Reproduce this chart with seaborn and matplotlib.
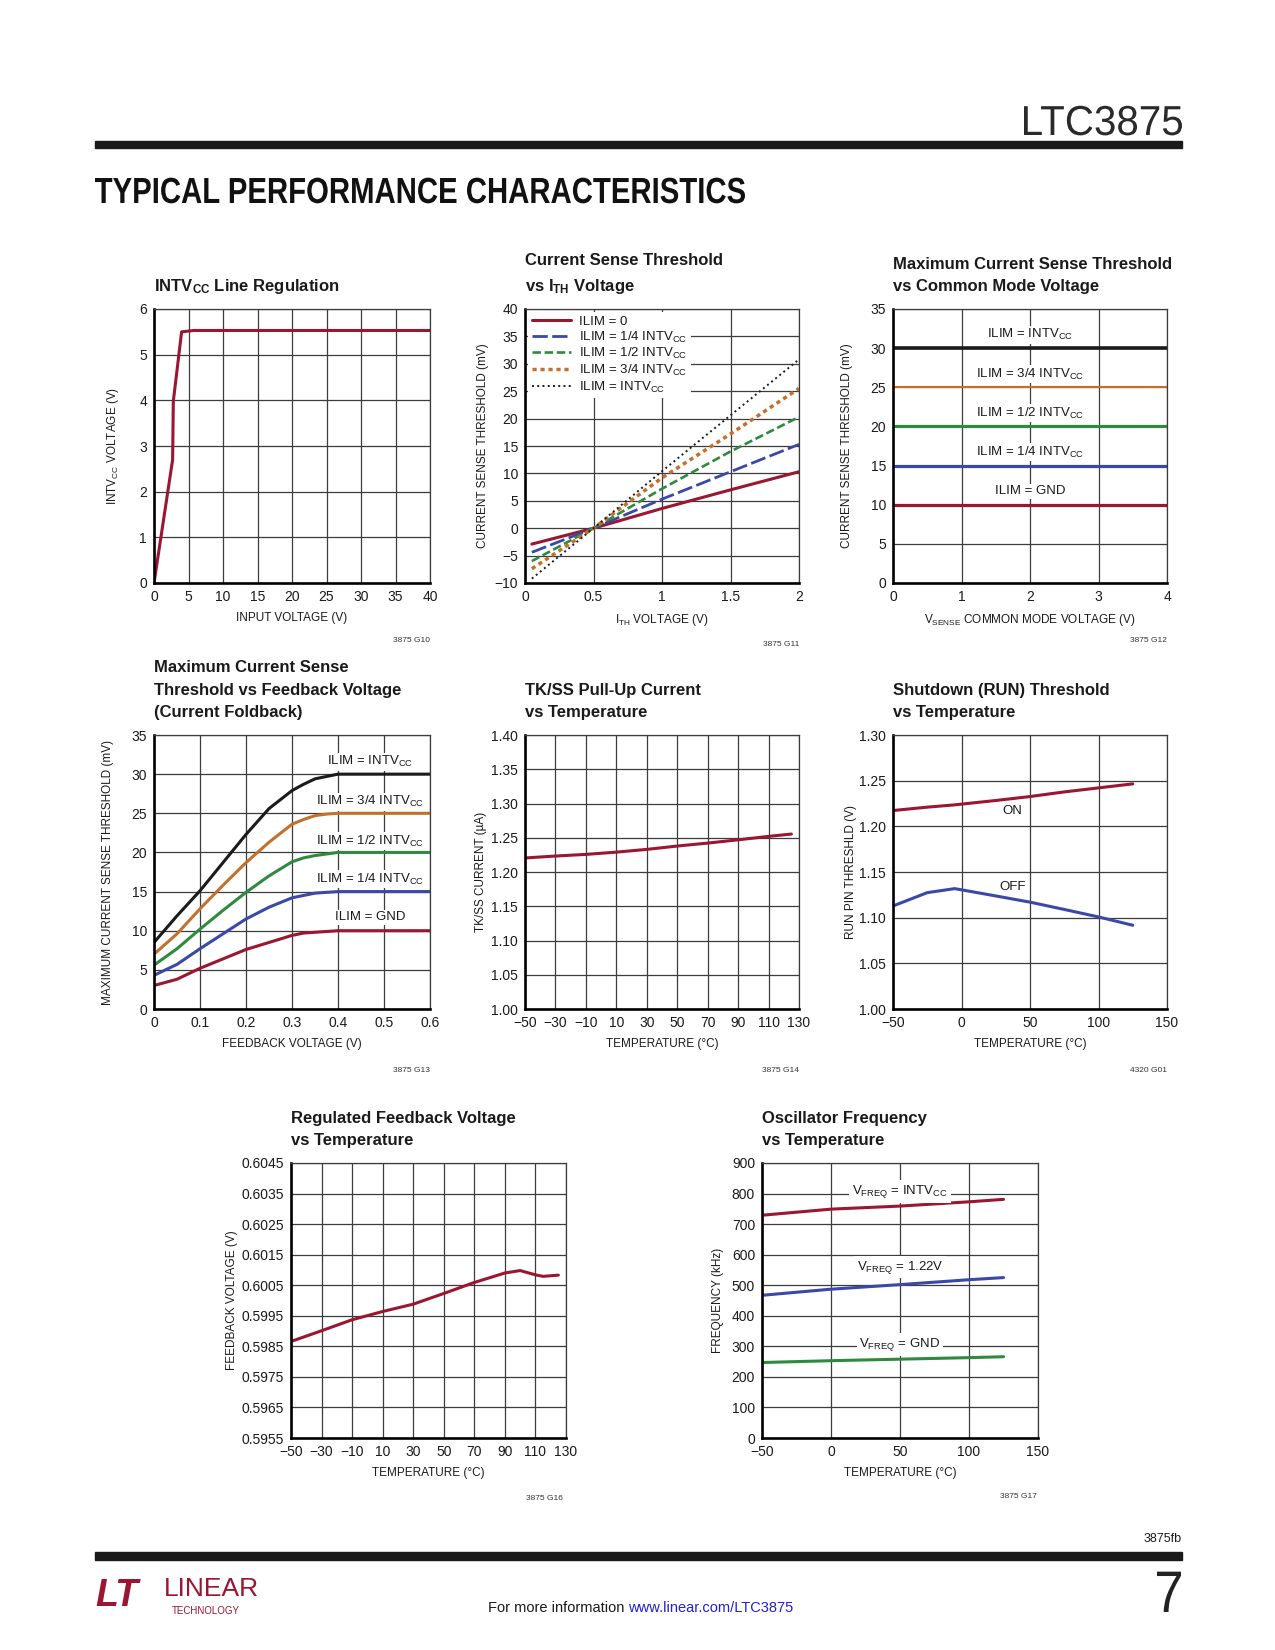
import numpy as np
import pandas as pd
import matplotlib
matplotlib.use("Agg")
import matplotlib.pyplot as plt
from matplotlib.patches import Rectangle, PathPatch
from matplotlib.textpath import TextPath
from matplotlib.font_manager import FontProperties
from matplotlib.transforms import Affine2D
from matplotlib.ticker import FixedLocator, FuncFormatter
import seaborn as sns

W, H = 1275, 1650

CRIMSON = "#9a1631"
BLUE = "#3a48a8"
GREEN = "#2f8a40"
ORANGE = "#c4702c"
BLACK = "#1b1b1b"
GRID = "#3c3c3c"

# --- INTVcc line regulation ---
linereg_vin = [0, 2.7, 2.8, 4.0, 5.8, 10, 20, 30, 40]
linereg_intvcc = [0, 2.70, 3.98, 5.50, 5.53, 5.53, 5.53, 5.53, 5.53]
linereg_xticks = [0, 5, 10, 15, 20, 25, 30, 35, 40]
linereg_yticks = [0, 1, 2, 3, 4, 5, 6]

# --- current sense threshold vs ITH ---
ith_v = [0.05, 0.5, 1.0, 1.5, 2.0]
ith_ilim_0 = [-2.9, 0, 3.6, 7.0, 10.3]
ith_ilim_quarter = [-4.4, 0, 5.3, 10.3, 15.3]
ith_ilim_half = [-6.0, 0, 7.2, 14.0, 20.3]
ith_ilim_3quarter = [-7.4, 0, 9.2, 17.2, 25.5]
ith_ilim_full = [-9.2, 0, 10.4, 20.6, 30.8]
ith_labels = ["ILIM = 0", "ILIM = 1/4 INTV$_{CC}$", "ILIM = 1/2 INTV$_{CC}$",
              "ILIM = 3/4 INTV$_{CC}$", "ILIM = INTV$_{CC}$"]
ith_xticks = [0, 0.5, 1, 1.5, 2]
ith_yticks = [-10, -5, 0, 5, 10, 15, 20, 25, 30, 35, 40]

# --- max current sense threshold vs common mode ---
cm_v = [0, 4]
cm_levels = [30, 25, 20, 15, 10]
cm_labels = ["ILIM = INTV$_{CC}$", "ILIM = 3/4 INTV$_{CC}$", "ILIM = 1/2 INTV$_{CC}$",
             "ILIM = 1/4 INTV$_{CC}$", "ILIM = GND"]
cm_xticks = [0, 1, 2, 3, 4]
cm_yticks = [0, 5, 10, 15, 20, 25, 30, 35]

# --- foldback ---
fb_v = [0, 0.05, 0.1, 0.15, 0.2, 0.25, 0.3, 0.325, 0.35, 0.375, 0.4, 0.5, 0.6]
fb_full = [8.5, 11.9, 15.1, 18.7, 22.3, 25.6, 27.9, 28.7, 29.4, 29.7, 30.0, 30.0, 30.0]
fb_3quarter = [7.0, 9.6, 12.8, 15.8, 18.7, 21.3, 23.6, 24.2, 24.7, 24.9, 25.0, 25.0, 25.0]
fb_half = [5.6, 7.7, 10.2, 12.6, 14.9, 17.0, 18.8, 19.3, 19.6, 19.8, 20.0, 20.0, 20.0]
fb_quarter = [4.3, 5.7, 7.7, 9.6, 11.5, 13.0, 14.2, 14.5, 14.8, 14.9, 15.0, 15.0, 15.0]
fb_gnd = [3.0, 3.8, 5.2, 6.4, 7.6, 8.5, 9.4, 9.7, 9.8, 9.9, 10.0, 10.0, 10.0]
fb_xticks = [0, 0.1, 0.2, 0.3, 0.4, 0.5, 0.6]
fb_yticks = [0, 5, 10, 15, 20, 25, 30, 35]

# --- TK/SS pull-up current ---
tk_temp = [-50, -30, -10, 10, 30, 50, 70, 90, 110, 125]
tk_current = [1.2205, 1.2233, 1.2257, 1.2290, 1.2330, 1.2379, 1.2422, 1.2470, 1.2520, 1.2554]
temp20_xticks = [-50, -30, -10, 10, 30, 50, 70, 90, 110, 130]
tk_yticks = [1.00, 1.05, 1.10, 1.15, 1.20, 1.25, 1.30, 1.35, 1.40]

# --- RUN threshold ---
run_temp = [-50, -25, -5, 25, 50, 75, 100, 125]
run_on = [1.2173, 1.2210, 1.2235, 1.2283, 1.2326, 1.2377, 1.2421, 1.2465]
run_off = [1.1128, 1.1274, 1.1318, 1.1238, 1.1170, 1.1090, 1.1008, 1.0917]
temp50_xticks = [-50, 0, 50, 100, 150]
run_yticks = [1.00, 1.05, 1.10, 1.15, 1.20, 1.25, 1.30]

# --- regulated feedback voltage ---
fbv_temp = [-50, -30, -10, 10, 30, 50, 70, 90, 100, 110, 115, 125]
fbv_volt = [0.59866, 0.59901, 0.59937, 0.59964, 0.59988, 0.60023, 0.60059,
            0.60090, 0.60098, 0.60084, 0.60079, 0.60083]
fbv_yticks = [0.5955, 0.5965, 0.5975, 0.5985, 0.5995, 0.6005, 0.6015, 0.6025, 0.6035, 0.6045]

# --- oscillator frequency ---
osc_temp = [-50, -25, 0, 50, 100, 125]
osc_intvcc = [729, 739, 749, 759, 773, 781]
osc_122 = [467, 477, 487, 502, 518, 525]
osc_gnd = [247, 250, 253, 258, 263, 266]
osc_yticks = [0, 100, 200, 300, 400, 500, 600, 700, 800, 900]

FONT = "Liberation Sans"
sns.set_theme(style="whitegrid")
plt.rcParams["font.family"] = [FONT, "DejaVu Sans"]
plt.rcParams.update({
    "mathtext.fontset": "custom",
    "mathtext.rm": FONT,
    "mathtext.bf": FONT + ":bold",
    "mathtext.it": FONT + ":italic",
    "mathtext.default": "regular",
    "axes.unicode_minus": True,
    "text.color": "#1a1a1a",
    "axes.labelcolor": "#1a1a1a",
    "xtick.color": "#1a1a1a",
    "ytick.color": "#1a1a1a",
})


def num(v, decimals=None):
    s = f"{v:.{decimals}f}" if decimals is not None else f"{v:g}"
    return s.replace("-", "\u2212")


def make_axes(fig, x0, y0, x1, y1):
    # pixel box (top-left origin) -> figure fraction
    ax = fig.add_axes([x0 / W, 1 - y1 / H, (x1 - x0) / W, (y1 - y0) / H])
    ax.width_px = x1 - x0
    return ax


def squeezed_text(fig, s, x_left, y_base, cap_px, width_px, weight="normal", color="#1a1a1a"):
    # condensed look for the page headings: text outline squeezed horizontally
    prop = FontProperties(family=FONT, weight=weight)
    path = TextPath((0, 0), s, size=cap_px / 0.716, prop=prop)
    ext = path.get_extents()
    tr = (Affine2D().translate(-ext.x0, 0).scale(width_px / ext.width, 1)
          .translate(x_left, H - y_base).scale(1 / W, 1 / H) + fig.transFigure)
    fig.add_artist(PathPatch(path, transform=tr, facecolor=color, edgecolor="none"))


def style_axes(ax, xticks, yticks, xdec, ydec, xlabel, ylabel, title, ylab_off=37):
    ax.set_xlim(xticks[0], xticks[-1])
    ax.set_ylim(yticks[0], yticks[-1])
    ax.xaxis.set_major_locator(FixedLocator(xticks))
    ax.yaxis.set_major_locator(FixedLocator(yticks))
    ax.xaxis.set_major_formatter(FuncFormatter(lambda v, p: num(v, xdec)))
    ax.yaxis.set_major_formatter(FuncFormatter(lambda v, p: num(v, ydec)))
    ax.set_facecolor("white")
    ax.grid(True, color=GRID, linewidth=0.9)
    ax.set_axisbelow(True)
    ax.tick_params(length=0, pad=5, labelsize=10)
    for side in ("left", "bottom"):
        ax.spines[side].set_color("black")
        ax.spines[side].set_linewidth(1.9)
    for side in ("top", "right"):
        ax.spines[side].set_color(GRID)
        ax.spines[side].set_linewidth(0.9)
    ax.set_xlabel(xlabel, fontsize=8.5, labelpad=6)
    ax.set_ylabel(ylabel, fontsize=8.5)
    ax.yaxis.set_label_coords(-ylab_off / ax.width_px, 0.5)
    ax.set_title(title, loc="left", fontsize=12, fontweight="bold", pad=13,
                 linespacing=1.62)


def draw(ax, x, y, color, lw=2.0, **kw):
    sns.lineplot(x=x, y=y, ax=ax, color=color, linewidth=lw, errorbar=None, **kw)


fig = plt.figure(figsize=(W / 100, H / 100), dpi=100)
fig.patch.set_facecolor("white")

# page header / footer
squeezed_text(fig, "LTC3875", 1024, 135, 30, 158, color="#2a2a2a")
fig.add_artist(Rectangle((95 / W, 1 - 148 / H), (1182 - 95) / W, 7 / H,
                         transform=fig.transFigure, color="#1a1a1a"))
squeezed_text(fig, "TYPICAL PERFORMANCE CHARACTERISTICS", 95, 203, 26, 650,
              weight="bold", color="#111111")
fig.add_artist(Rectangle((95 / W, 1 - 1560 / H), (1182 - 95) / W, 8 / H,
                         transform=fig.transFigure, color="#1a1a1a"))
fig.text(1182 / W, 1 - 1539 / H, "3875fb", ha="right", va="center", fontsize=9)
squeezed_text(fig, "7", 1157, 1612, 42, 24, color="#222222")
fig.text(95 / W, 1 - 1596 / H, "LT", ha="left", va="center", fontsize=27,
         fontweight="bold", fontstyle="italic", color=CRIMSON)
fig.text(164 / W, 1 - 1589 / H, "LINEAR", ha="left", va="center", fontsize=19,
         color=CRIMSON)
fig.text(172 / W, 1 - 1611 / H, "TECHNOLOGY", ha="left", va="center", fontsize=7,
         color=CRIMSON)
fig.text(628 / W, 1 - 1608 / H, "For more information ", ha="right", va="center",
         fontsize=10.5)
fig.text(628 / W, 1 - 1608 / H, "www.linear.com/LTC3875", ha="left", va="center",
         fontsize=10.5, color="#1f1fe0")

# chart IDs
for x, y, s in [(430, 641, "3875 G10"), (799, 644, "3875 G11"), (1167, 641, "3875 G12"),
                (430, 1071, "3875 G13"), (799, 1070, "3875 G14"), (1167, 1070, "4320 G01"),
                (563, 1498, "3875 G16"), (1037, 1497, "3875 G17")]:
    fig.text(x / W, 1 - y / H, s, ha="right", va="center", fontsize=6, color="#333333")

# 1. INTVcc line regulation
ax = make_axes(fig, 154, 309, 430, 583)
draw(ax, linereg_vin, linereg_intvcc, CRIMSON, lw=2.2)
style_axes(ax, linereg_xticks, linereg_yticks, None, None, "INPUT VOLTAGE (V)",
           "INTV$_{CC}$ VOLTAGE (V)", "INTV$_{CC}$ Line Regulation", ylab_off=33)

# 2. current sense threshold vs ITH voltage
ax = make_axes(fig, 525, 309, 799, 583)
draw(ax, ith_v, ith_ilim_0, CRIMSON, lw=2.2, label=ith_labels[0])
draw(ax, ith_v, ith_ilim_quarter, BLUE, lw=2.0, linestyle=(0, (5.5, 1.6)), label=ith_labels[1])
draw(ax, ith_v, ith_ilim_half, GREEN, lw=1.9, linestyle=(0, (3.2, 1.4)), label=ith_labels[2])
draw(ax, ith_v, ith_ilim_3quarter, ORANGE, lw=2.5, linestyle=(0, (1.2, 1.1)), label=ith_labels[3])
draw(ax, ith_v, ith_ilim_full, BLACK, lw=1.4, linestyle=(0, (1.0, 1.7)), label=ith_labels[4])
style_axes(ax, ith_xticks, ith_yticks, None, None, "I$_{TH}$ VOLTAGE (V)",
           "CURRENT SENSE THRESHOLD (mV)", "Current Sense Threshold\nvs I$_{TH}$ Voltage",
           ylab_off=36)
ax.legend(loc="upper left", frameon=True, facecolor="white", edgecolor="none",
          framealpha=1, fancybox=False, fontsize=9.5, handlelength=3.0,
          handletextpad=0.6, labelspacing=0.12, borderpad=0.25, borderaxespad=0.25)

# 3. max current sense threshold vs common mode voltage
ax = make_axes(fig, 893, 309, 1167, 583)
for level, color, lw, lab in zip(cm_levels, [BLACK, ORANGE, GREEN, BLUE, CRIMSON],
                                 [2.6, 1.5, 2.3, 2.3, 2.3], cm_labels):
    draw(ax, cm_v, [level, level], color, lw=lw)
    ax.text(2.0, level + 1.7, lab, ha="center", va="center", fontsize=9.5,
            bbox=dict(facecolor="white", edgecolor="none", pad=1.0))
style_axes(ax, cm_xticks, cm_yticks, None, None, "V$_{SENSE}$ COMMON MODE VOLTAGE (V)",
           "CURRENT SENSE THRESHOLD (mV)",
           "Maximum Current Sense Threshold\nvs Common Mode Voltage", ylab_off=40)

# 4. foldback
ax = make_axes(fig, 154, 735, 430, 1009)
for ys, color, lab, ly in [(fb_full, BLACK, cm_labels[0], 31.6),
                           (fb_3quarter, ORANGE, cm_labels[1], 26.5),
                           (fb_half, GREEN, cm_labels[2], 21.4),
                           (fb_quarter, BLUE, cm_labels[3], 16.6),
                           (fb_gnd, CRIMSON, cm_labels[4], 11.7)]:
    draw(ax, fb_v, ys, color, lw=2.2)
    ax.text(0.47, ly, lab, ha="center", va="center", fontsize=9.5,
            bbox=dict(facecolor="white", edgecolor="none", pad=1.0))
style_axes(ax, fb_xticks, fb_yticks, None, None, "FEEDBACK VOLTAGE (V)",
           "MAXIMUM CURRENT SENSE THRESHOLD (mV)",
           "Maximum Current Sense\nThreshold vs Feedback Voltage\n(Current Foldback)",
           ylab_off=40)

# 5. TK/SS pull-up current
ax = make_axes(fig, 525, 735, 799, 1009)
draw(ax, tk_temp, tk_current, CRIMSON, lw=2.2)
style_axes(ax, temp20_xticks, tk_yticks, None, 2, "TEMPERATURE (°C)",
           "TK/SS CURRENT (µA)", "TK/SS Pull-Up Current\nvs Temperature", ylab_off=38)

# 6. RUN threshold
ax = make_axes(fig, 893, 735, 1167, 1009)
draw(ax, run_temp, run_on, CRIMSON, lw=2.2)
draw(ax, run_temp, run_off, BLUE, lw=2.2)
ax.text(37, 1.2166, "ON", ha="center", va="center", fontsize=9.5)
ax.text(37, 1.1336, "OFF", ha="center", va="center", fontsize=9.5)
style_axes(ax, temp50_xticks, run_yticks, None, 2, "TEMPERATURE (°C)",
           "RUN PIN THRESHLD (V)", "Shutdown (RUN) Threshold\nvs Temperature", ylab_off=36)

# 7. regulated feedback voltage
ax = make_axes(fig, 291, 1163, 566, 1438)
draw(ax, fbv_temp, fbv_volt, CRIMSON, lw=2.2)
style_axes(ax, temp20_xticks, fbv_yticks, None, 4, "TEMPERATURE (°C)",
           "FEEDBACK VOLTAGE (V)", "Regulated Feedback Voltage\nvs Temperature", ylab_off=53)

# 8. oscillator frequency
ax = make_axes(fig, 762, 1163, 1038, 1438)
draw(ax, osc_temp, osc_intvcc, CRIMSON, lw=2.2)
draw(ax, osc_temp, osc_122, BLUE, lw=2.2)
draw(ax, osc_temp, osc_gnd, GREEN, lw=2.2)
for y, lab in [(807, "V$_{FREQ}$ = INTV$_{CC}$"), (559, "V$_{FREQ}$ = 1.22V"),
               (306, "V$_{FREQ}$ = GND")]:
    ax.text(50, y, lab, ha="center", va="center", fontsize=9.5,
            bbox=dict(facecolor="white", edgecolor="none", pad=2.0))
style_axes(ax, temp50_xticks, osc_yticks, None, None, "TEMPERATURE (°C)",
           "FREQUENCY (kHz)", "Oscillator Frequency\nvs Temperature", ylab_off=38)

fig.savefig("out.png", dpi=100, facecolor="white")
